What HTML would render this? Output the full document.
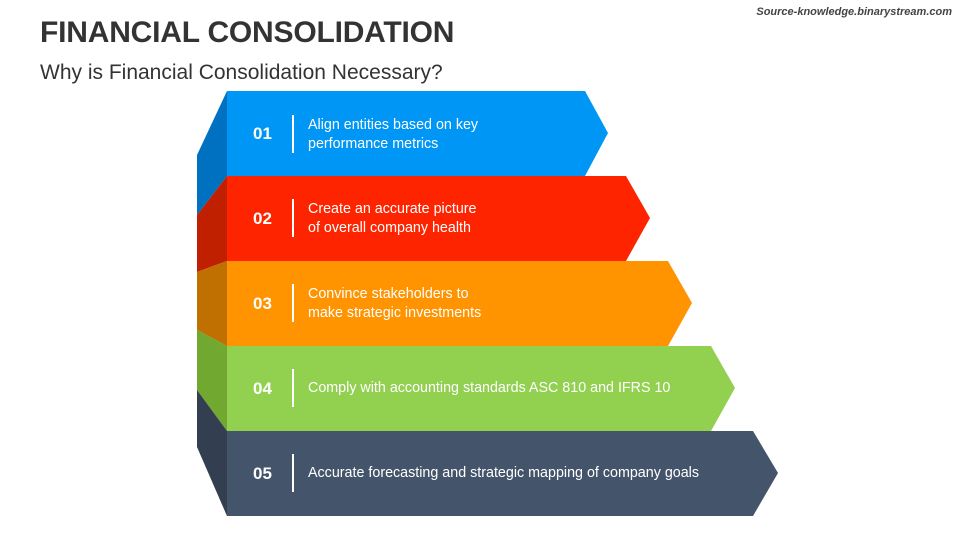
<!DOCTYPE html>
<html><head><meta charset="utf-8"><style>
body{margin:0;width:960px;height:540px;background:#fff;overflow:hidden;font-family:"Liberation Sans",sans-serif;position:relative}
.t{position:absolute;left:40px;top:16px;font-size:30px;font-weight:bold;color:#333;letter-spacing:-0.2px}
.s{position:absolute;left:40px;top:61px;font-size:21px;color:#333}
.src{position:absolute;right:8px;top:6px;font-size:11px;font-weight:bold;font-style:italic;color:#444}
.n{position:absolute;left:253px;font-size:17px;font-weight:bold;color:#fff}
.d{position:absolute;left:292px;width:2px;height:38px;background:#fff}
.x{position:absolute;left:308px;font-size:14.3px;color:#fff;line-height:19px}
</style></head><body>
<div class="t">FINANCIAL CONSOLIDATION</div>
<div class="s">Why is Financial Consolidation Necessary?</div>
<div class="src">Source-knowledge.binarystream.com</div>
<svg width="960" height="540" style="position:absolute;left:0;top:0">
<polygon points="227,91 197,155 197,215 227,176" fill="#0070c0"/>
<polygon points="227,176 197,215 197,272 227,261" fill="#c02000"/>
<polygon points="227,261 197,272 197,330 227,346" fill="#c07000"/>
<polygon points="227,346 197,330 197,390 227,431" fill="#70a830"/>
<polygon points="227,431 197,390 197,447 227,516" fill="#333f50"/>
<polygon points="227,91 585,91 608,133 585,176 227,176" fill="#0096f5"/>
<polygon points="227,176 626,176 650,218 626,261 227,261" fill="#ff2400"/>
<polygon points="227,261 668,261 692,303 668,346 227,346" fill="#ff9300"/>
<polygon points="227,346 711,346 735,388 711,431 227,431" fill="#92d050"/>
<polygon points="227,431 753,431 778,473 753,516 227,516" fill="#44546a"/>
</svg>
<div class="n" style="top:124px">01</div><div class="d" style="top:115px"></div>
<div class="x" style="top:116px">Align entities based on key<br>performance metrics</div>
<div class="n" style="top:209px">02</div><div class="d" style="top:199px"></div>
<div class="x" style="top:200px">Create an accurate picture<br>of overall company health</div>
<div class="n" style="top:294px">03</div><div class="d" style="top:284px"></div>
<div class="x" style="top:285px">Convince stakeholders to<br>make strategic investments</div>
<div class="n" style="top:379px">04</div><div class="d" style="top:369px"></div>
<div class="x" style="top:379px">Comply with accounting standards ASC 810 and IFRS 10</div>
<div class="n" style="top:464px">05</div><div class="d" style="top:454px"></div>
<div class="x" style="top:464px">Accurate forecasting and strategic mapping of company goals</div>
</body></html>
